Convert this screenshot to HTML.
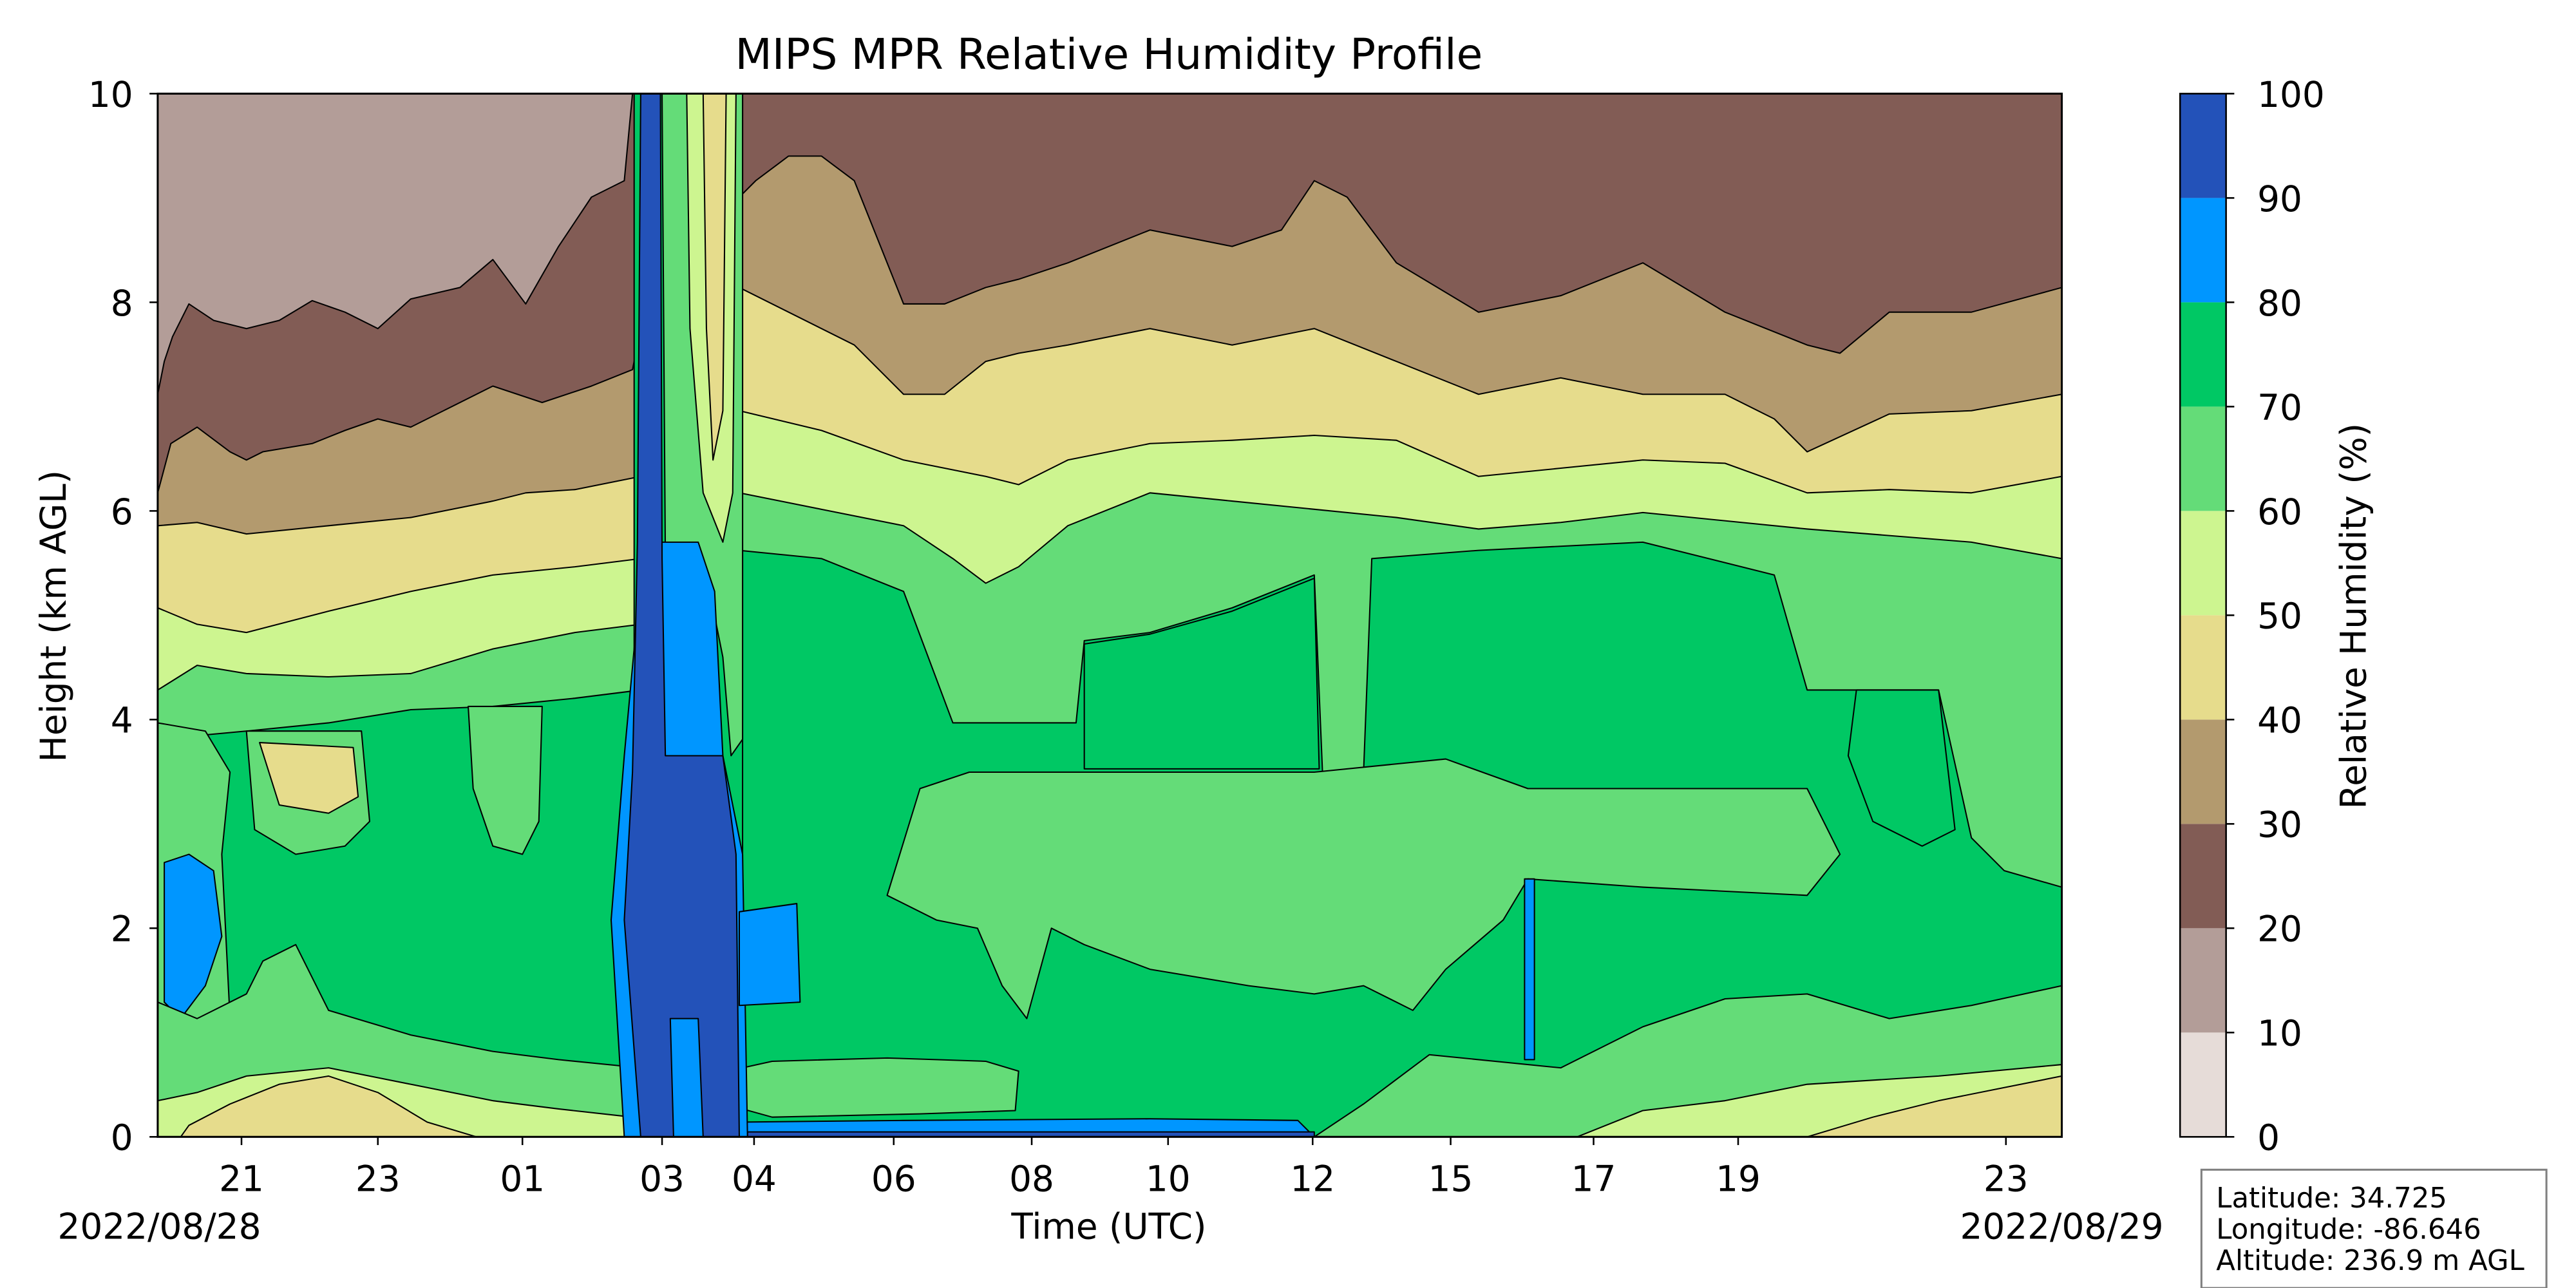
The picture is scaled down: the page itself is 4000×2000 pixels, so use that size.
<!DOCTYPE html>
<html><head><meta charset="utf-8"><style>
html,body{margin:0;padding:0;background:#fff;}
svg{display:block;}
text{font-family:"DejaVu Sans","Liberation Sans",sans-serif;fill:#000;}
</style></head><body>
<svg width="4000" height="2000" viewBox="0 0 1568 784" xmlns="http://www.w3.org/2000/svg">
<defs><clipPath id="pc"><rect x="96" y="57" width="1159" height="635"/></clipPath></defs>
<g clip-path="url(#pc)" stroke="#000" stroke-width="0.8" stroke-linejoin="round">
<rect x="96" y="57" width="1159" height="635" fill="#00c864" stroke="none"/>
<polygon fill="#64dc78" points="96,57 390,57 390,420 350,425 300,430 250,432 200,440 150,445 96,450"/>
<polygon fill="#cdf590" points="96,57 390,57 390,380 350,385 300,395 250,410 200,412 150,410 120,405 96,420"/>
<polygon fill="#e6dc8c" points="96,57 390,57 390,340 350,345 300,350 250,360 200,372 150,385 120,380 96,370"/>
<polygon fill="#b39a6e" points="96,57 390,57 390,290 350,298 320,300 300,305 250,315 200,320 150,325 120,318 96,320"/>
<polygon fill="#825c55" points="96,57 390,57 390,200 385,225 360,235 330,245 300,235 270,250 250,260 230,255 210,262 190,270 160,275 150,280 140,275 120,260 104,270 96,300"/>
<polygon fill="#b39d98" points="96,57 385,57 380,110 360,120 340,150 320,185 300,158 280,175 250,182 230,200 210,190 190,183 170,195 150,200 130,195 115,185 105,205 100,220 96,240"/>
<polygon fill="#64dc78" points="96,440 125,445 140,470 135,520 140,620 120,640 96,650"/>
<polygon fill="#0096ff" points="100,525 115,520 130,530 135,570 125,600 110,620 100,610"/>
<polygon fill="#64dc78" points="150,445 220,445 225,500 210,515 180,520 155,505"/>
<polygon fill="#e6dc8c" points="158,452 215,455 218,485 200,495 170,490"/>
<polygon fill="#64dc78" points="285,430 330,430 328,500 318,520 300,515 288,480"/>
<polygon fill="#64dc78" points="96,692 390,692 390,650 340,645 300,640 250,630 200,615 180,575 160,585 150,605 120,620 96,610"/>
<polygon fill="#cdf590" points="96,692 390,692 385,680 340,675 300,670 250,660 200,650 150,655 120,665 96,670"/>
<polygon fill="#e6dc8c" points="110,692 290,692 260,683 230,665 200,655 170,660 140,672 115,685"/>
<polygon fill="#64dc78" points="450,57 1255,57 1255,540 1220,530 1200,510 1180,420 1100,420 1080,350 1000,330 900,335 835,340 830,470 805,470 800,350 750,370 700,385 660,390 655,440 620,440 580,440 550,360 500,340 450,335"/>
<polygon fill="#cdf590" points="450,57 1255,57 1255,340 1200,330 1100,322 1000,312 950,318 900,322 850,315 800,310 750,305 700,300 650,320 620,345 600,355 580,340 550,320 500,310 450,300"/>
<polygon fill="#e6dc8c" points="450,57 1255,57 1255,290 1200,300 1150,298 1100,300 1050,282 1000,280 950,285 900,290 850,268 800,265 750,268 700,270 650,280 620,295 600,290 575,285 550,280 500,262 450,250"/>
<polygon fill="#b39a6e" points="450,57 1255,57 1255,240 1200,250 1150,252 1100,275 1080,255 1050,240 1000,240 950,230 900,240 850,220 800,200 750,210 700,200 650,210 620,215 600,220 575,240 550,240 520,210 500,200 470,185 450,175"/>
<polygon fill="#825c55" points="450,57 1255,57 1255,175 1200,190 1150,190 1120,215 1100,210 1050,190 1000,160 950,180 900,190 850,160 820,120 800,110 780,140 750,150 700,140 650,160 620,170 600,175 575,185 550,185 520,110 500,95 480,95 460,110 450,120"/>
<polygon fill="#64dc78" points="540,545 560,480 590,470 640,470 700,470 800,470 880,462 930,480 1000,480 1100,480 1120,520 1100,545 1000,540 930,535 915,560 880,590 860,615 830,600 800,605 760,600 700,590 660,575 640,565 625,620 610,600 595,565 570,560"/>
<polygon fill="#00c864" points="660,392 700,386 750,372 800,352 803,468 660,468"/>
<polygon fill="#00c864" points="1130,420 1180,420 1190,505 1170,515 1140,500 1125,460"/>
<polygon fill="#64dc78" points="800,692 830,672 870,642 950,650 1000,625 1050,608 1100,605 1150,620 1200,612 1255,600 1255,692"/>
<polygon fill="#cdf590" points="960,692 1000,676 1050,670 1100,660 1180,655 1255,648 1255,692"/>
<polygon fill="#e6dc8c" points="1100,692 1140,680 1180,670 1220,662 1255,655 1255,692"/>
<polygon fill="#64dc78" points="452,650 470,646 540,644 600,646 620,652 618,676 560,678 470,680 452,675"/>
<polygon fill="#0096ff" points="452,683 550,682 700,681 790,682 800,692 452,692"/>
<polygon fill="#2352b9" points="455,689 800,689 800,692 455,692"/>
<polygon fill="#0096ff" points="928,535 934,535 934,645 928,645"/>
<rect x="386" y="57" width="66" height="635" fill="#00c864"/>
<polygon fill="#64dc78" points="403,57 452,57 452,450 445,460 440,400 430,350 405,340"/>
<polygon fill="#cdf590" points="418,57 448,57 446,300 440,330 428,300 420,200"/>
<polygon fill="#e6dc8c" points="428,57 442,57 440,250 434,280 430,200"/>
<polygon fill="#0096ff" points="392,330 425,330 435,360 440,460 452,520 455,692 380,692 372,560 380,460"/>
<polygon fill="#2352b9" points="390,57 402,57 403,340 405,460 440,460 448,520 450,692 390,692 380,560 385,470 388,330"/>
<polygon fill="#0096ff" points="450,555 485,550 487,610 450,612"/>
<polygon fill="#0096ff" points="408,620 425,620 428,692 410,692"/>
</g>
<rect x="96" y="57" width="1159" height="635" fill="none" stroke="#000" stroke-width="1.2"/>
<g stroke="#000" stroke-width="1">
<line x1="91" y1="692" x2="96" y2="692"/><line x1="91" y1="565" x2="96" y2="565"/><line x1="91" y1="438" x2="96" y2="438"/><line x1="91" y1="311" x2="96" y2="311"/><line x1="91" y1="184" x2="96" y2="184"/><line x1="91" y1="57" x2="96" y2="57"/>
<line x1="147" y1="692" x2="147" y2="697"/><line x1="230" y1="692" x2="230" y2="697"/><line x1="318" y1="692" x2="318" y2="697"/><line x1="403" y1="692" x2="403" y2="697"/><line x1="459" y1="692" x2="459" y2="697"/><line x1="544" y1="692" x2="544" y2="697"/><line x1="628" y1="692" x2="628" y2="697"/><line x1="711" y1="692" x2="711" y2="697"/><line x1="799" y1="692" x2="799" y2="697"/><line x1="883" y1="692" x2="883" y2="697"/><line x1="970" y1="692" x2="970" y2="697"/><line x1="1058" y1="692" x2="1058" y2="697"/><line x1="1221" y1="692" x2="1221" y2="697"/>
</g>
<g font-size="21.5" text-anchor="end">
<text x="81" y="700">0</text><text x="81" y="573">2</text><text x="81" y="446">4</text><text x="81" y="319">6</text><text x="81" y="192">8</text><text x="81" y="65">10</text>
</g>
<g font-size="21.5" text-anchor="middle">
<text x="147" y="725">21</text><text x="230" y="725">23</text><text x="318" y="725">01</text><text x="403" y="725">03</text><text x="459" y="725">04</text><text x="544" y="725">06</text><text x="628" y="725">08</text><text x="711" y="725">10</text><text x="799" y="725">12</text><text x="883" y="725">15</text><text x="970" y="725">17</text><text x="1058" y="725">19</text><text x="1221" y="725">23</text>
<text x="97" y="754">2022/08/28</text><text x="1255" y="754">2022/08/29</text>
<text x="675" y="754">Time (UTC)</text>
<text x="675" y="42" font-size="26">MIPS MPR Relative Humidity Profile</text>
<text transform="translate(40,375) rotate(-90)">Height (km AGL)</text>
<text transform="translate(1440,375) rotate(-90)">Relative Humidity (%)</text>
</g>
<g>
<rect x="1327" y="628.5" width="28" height="63.5" fill="#e6dcd8"/>
<rect x="1327" y="565" width="28" height="63.5" fill="#b39d98"/>
<rect x="1327" y="501.5" width="28" height="63.5" fill="#825c55"/>
<rect x="1327" y="438" width="28" height="63.5" fill="#b39a6e"/>
<rect x="1327" y="374.5" width="28" height="63.5" fill="#e6dc8c"/>
<rect x="1327" y="311" width="28" height="63.5" fill="#cdf590"/>
<rect x="1327" y="247.5" width="28" height="63.5" fill="#64dc78"/>
<rect x="1327" y="184" width="28" height="63.5" fill="#00c864"/>
<rect x="1327" y="120.5" width="28" height="63.5" fill="#0096ff"/>
<rect x="1327" y="57" width="28" height="63.5" fill="#2352b9"/>
<rect x="1327" y="57" width="28" height="635" fill="none" stroke="#000" stroke-width="1"/>
</g>
<g stroke="#000" stroke-width="1">
<line x1="1355" y1="692" x2="1360" y2="692"/><line x1="1355" y1="628.5" x2="1360" y2="628.5"/><line x1="1355" y1="565" x2="1360" y2="565"/><line x1="1355" y1="501.5" x2="1360" y2="501.5"/><line x1="1355" y1="438" x2="1360" y2="438"/><line x1="1355" y1="374.5" x2="1360" y2="374.5"/><line x1="1355" y1="311" x2="1360" y2="311"/><line x1="1355" y1="247.5" x2="1360" y2="247.5"/><line x1="1355" y1="184" x2="1360" y2="184"/><line x1="1355" y1="120.5" x2="1360" y2="120.5"/><line x1="1355" y1="57" x2="1360" y2="57"/>
</g>
<g font-size="21.5">
<text x="1374" y="700">0</text><text x="1374" y="636.5">10</text><text x="1374" y="573">20</text><text x="1374" y="509.5">30</text><text x="1374" y="446">40</text><text x="1374" y="382.5">50</text><text x="1374" y="319">60</text><text x="1374" y="255.5">70</text><text x="1374" y="192">80</text><text x="1374" y="128.5">90</text><text x="1374" y="65">100</text>
</g>
<rect x="1340" y="712" width="210" height="72" fill="#fff" stroke="#808080" stroke-width="1.2"/>
<g font-size="17">
<text x="1349" y="735">Latitude: 34.725</text>
<text x="1349" y="754">Longitude: -86.646</text>
<text x="1349" y="773">Altitude: 236.9 m AGL</text>
</g>
</svg>
</body></html>
